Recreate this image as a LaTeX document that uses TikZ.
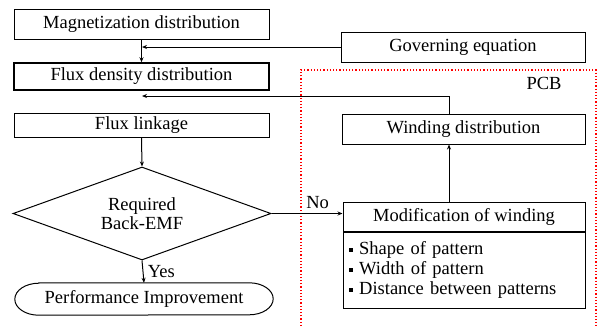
\documentclass[tikz,border=0pt]{standalone}
\usepackage{fontspec}
\setmainfont{Liberation Serif}
\usetikzlibrary{shapes.geometric,arrows.meta}
\begin{document}
\begin{tikzpicture}[x=1pt,y=-1pt,
  every node/.style={font=\fontsize{18.5}{21}\selectfont},
  box/.style={draw, line width=1pt, inner sep=0pt},
  arr/.style={-{Stealth[length=5pt,width=4pt]}, line width=1pt},
  ln/.style={line width=1pt}]
\useasboundingbox (0,0) rectangle (597,325);
\node[box, minimum width=255pt, minimum height=30pt] (mag) at (141.5,24) {Magnetization distribution};
\node[box, line width=1.5pt, minimum width=255pt, minimum height=27pt] (flux) at (141.5,76.5) {Flux density distribution};
\node[box, minimum width=255pt, minimum height=24pt] (link) at (141.5,125) {Flux linkage};
\node[draw, line width=1pt, diamond, aspect=2.77, minimum width=258pt, minimum height=93pt, inner sep=0pt, align=center] (dia) at (142,213.5) {Required\\[-2pt]Back-EMF};
\node[inner sep=0pt, minimum width=258pt, minimum height=32pt] (perf) at (144,299) {Performance Improvement};
\draw[ln] ([xshift=24pt]perf.north west) -- ([xshift=-24pt]perf.north east)
  arc[start angle=90, end angle=-90, x radius=24pt, y radius=16pt]
  -- ([xshift=24pt]perf.south west)
  arc[start angle=-90, end angle=-270, x radius=24pt, y radius=16pt] -- cycle;
\node[box, minimum width=244pt, minimum height=30pt] (gov) at (463,47) {Governing equation};
\node[box, minimum width=243pt, minimum height=30pt] (wind) at (463.5,129) {Winding distribution};
\node[box, minimum width=242pt, minimum height=29pt] (modh) at (464,216.5) {Modification of winding};
\node[box, minimum width=242pt, minimum height=76pt, anchor=north, align=left, text width=230pt] (modb) at (modh.south) {%
\raisebox{3pt}{\rule{4pt}{4pt}} Shape of pattern\\[-1pt]
\raisebox{3pt}{\rule{4pt}{4pt}} Width of pattern\\[-1pt]
\raisebox{3pt}{\rule{4pt}{4pt}} Distance between patterns};
\node (pcb) at (544,83) {PCB};
\draw[red, dotted, line width=1.2pt] (301,326) -- (301,70) -- (596,70) -- (596,326);
% connectors
\draw[arr] (mag.south) -- (flux.north);
\coordinate (g1) at (142,47);
\draw[arr] (gov.west) -- (g1);
\coordinate (wtop) at (449,114);
\coordinate (j) at (142,96);
\draw[arr] (wtop) |- (j);
\coordinate (mtop) at (449,202);
\draw[arr] (mtop) -- (mtop |- wind.south);
\draw[arr] (link.south) -- (dia.north);
\draw[arr] (dia.east) -- (dia.east -| modh.west) node[pos=0.65, above=1pt] (no) {No};
\draw[arr] (dia.south) -- (perf.north) node[midway, right=1pt] (yes) {Yes};
\end{tikzpicture}
\end{document}
